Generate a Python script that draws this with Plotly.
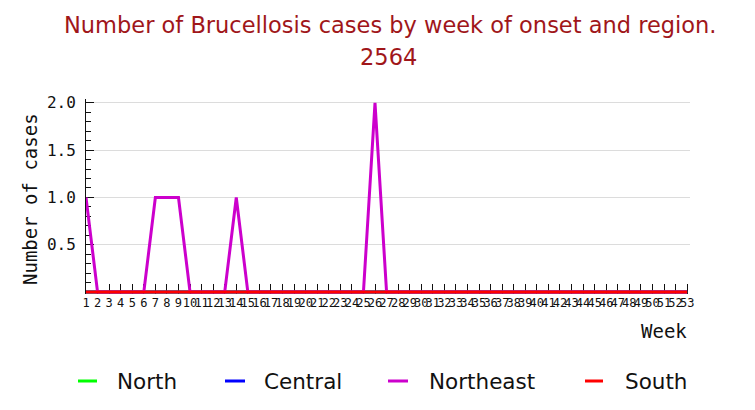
import plotly.graph_objects as go

weeks = list(range(1, 54))
week_labels = [str(w) for w in weeks]
regions = ["North", "Central", "Northeast", "South"]
colors = ["#00ff00", "#0000ff", "#cc00cc", "#ff0000"]

north = [0] * 53
central = [0] * 53
northeast = [1, 0, 0, 0, 0, 0, 1, 1, 1, 0,
             0, 0, 0, 1, 0, 0, 0, 0, 0, 0,
             0, 0, 0, 0, 0, 2, 0, 0, 0, 0,
             0, 0, 0, 0, 0, 0, 0, 0, 0, 0,
             0, 0, 0, 0, 0, 0, 0, 0, 0, 0,
             0, 0, 0]
south = [0] * 53
series = [north, central, northeast, south]

title_line1 = "Number of Brucellosis cases by week of onset and region."
title_line2 = "2564"
x_title = "Week"
y_title = "Number of cases"
y_ticks = [0.5, 1.0, 1.5, 2.0]
y_tick_labels = ["0.5", "1.0", "1.5", "2.0"]

W, H = 755, 410
L, R, T, B = 86, 65, 99, 116
PW, PH = W - L - R, H - T - B


def px(x):
    return (x - L) / PW


def py(y):
    return (H - B - y) / PH


fig = go.Figure()
for name, col, vals in zip(regions, colors, series):
    fig.add_trace(go.Scatter(x=weeks, y=vals, mode="lines", name=name,
                             line=dict(color=col, width=3), showlegend=False))

mono = "DejaVu Sans Mono"
sans = "DejaVu Sans"
title_col = "#a0161a"

annotations = [
    dict(text=title_line1, x=px(390), y=py(25), xref="paper", yref="paper",
         showarrow=False, xanchor="center", yanchor="middle",
         font=dict(family=sans, size=22.5, color=title_col)),
    dict(text=title_line2, x=px(388), y=py(57), xref="paper", yref="paper",
         showarrow=False, xanchor="center", yanchor="middle",
         font=dict(family=sans, size=22.5, color=title_col)),
    dict(text=x_title, x=px(664), y=py(331), xref="paper", yref="paper",
         showarrow=False, xanchor="center", yanchor="middle",
         font=dict(family=mono, size=19, color="#111111")),
    dict(text=y_title, x=px(30), y=py(199), xref="paper", yref="paper",
         showarrow=False, xanchor="center", yanchor="middle", textangle=-90,
         font=dict(family=mono, size=19, color="#111111")),
]

legend_dash = [(78, 97), (225, 245), (388, 408), (585, 603)]
legend_text_x = [115, 262, 427, 623]
legend_y = 381
shapes = []
for name, col, (x0, x1), tx in zip(regions, colors, legend_dash, legend_text_x):
    shapes.append(dict(type="line", xref="paper", yref="paper",
                       x0=px(x0), x1=px(x1), y0=py(legend_y), y1=py(legend_y),
                       line=dict(color=col, width=3)))
    annotations.append(dict(text=name, x=px(tx), y=py(legend_y), xref="paper",
                            yref="paper", showarrow=False, xanchor="left",
                            yanchor="middle",
                            font=dict(family=sans, size=21.5, color="#111111")))

fig.update_layout(
    width=W, height=H,
    margin=dict(l=L, r=R, t=T, b=B, pad=0),
    paper_bgcolor="white", plot_bgcolor="white",
    annotations=annotations, shapes=shapes,
    showlegend=False,
    xaxis=dict(range=[1, 1 + PW / 11.56], tickmode="array", tickvals=weeks,
               ticktext=week_labels, tickangle=0, ticks="inside", ticklen=10,
               tickcolor="#111111", tickwidth=1, showgrid=False, zeroline=False,
               showline=False, layer="below traces",
               tickfont=dict(family=mono, size=12, color="#111111")),
    yaxis=dict(range=[-0.02, 2.04], tickmode="array", tickvals=y_ticks,
               ticktext=y_tick_labels, ticks="inside", ticklen=8,
               tickcolor="#111111", tickwidth=1, showgrid=True,
               gridcolor="#dcdcdc", gridwidth=1, zeroline=False,
               showline=True, linecolor="#111111", linewidth=1,
               layer="below traces", ticklabelstandoff=6,
               minor=dict(tickmode="linear", tick0=0, dtick=0.1, ticks="inside",
                          ticklen=5, tickcolor="#111111", showgrid=False),
               tickfont=dict(family=mono, size=16, color="#111111")),
)

fig.write_html("out.html", config={"displayModeBar": False},
               post_script="document.body.style.margin='0';")
